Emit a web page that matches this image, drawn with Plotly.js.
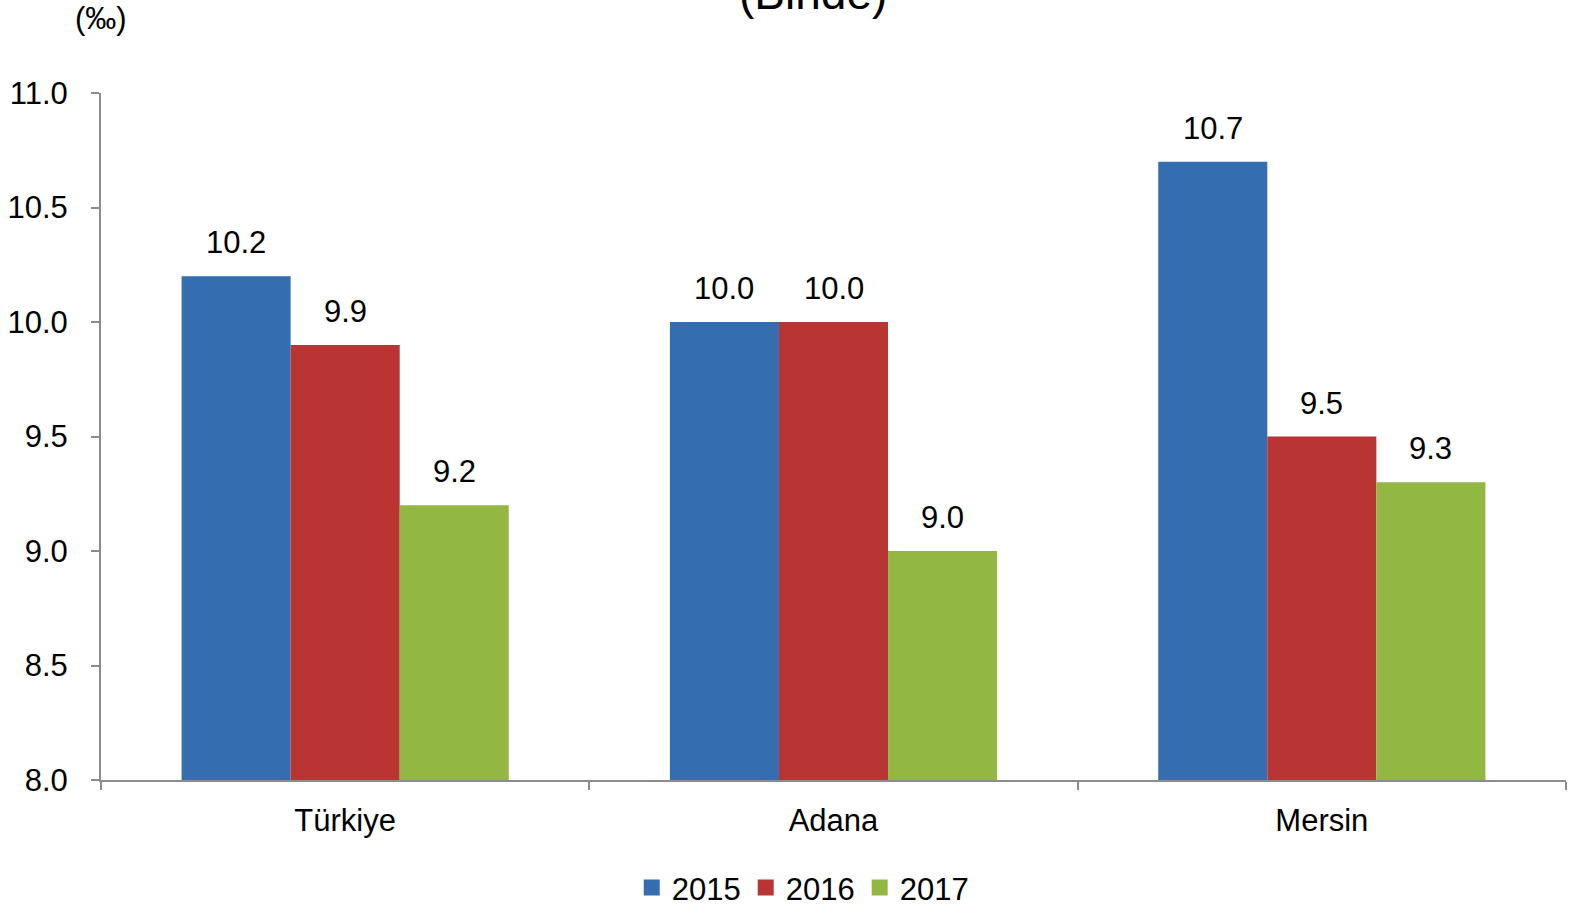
<!DOCTYPE html>
<html>
<head>
<meta charset="utf-8">
<script src="https://cdn.plot.ly/plotly-3.0.1.min.js"></script>
<style>html,body{margin:0;padding:0;background:#fff;}#chart{width:1571px;height:907px;}</style>
</head>
<body>
<div id="chart"></div>
<script>
const categories = ["Türkiye", "Adana", "Mersin"];
const years = ["2015", "2016", "2017"];
const values2015 = [10.2, 10.0, 10.7];
const values2016 = [9.9, 10.0, 9.5];
const values2017 = [9.2, 9.0, 9.3];
const yTicks = [8.0, 8.5, 9.0, 9.5, 10.0, 10.5, 11.0];
const titleText = "(Binde)";
const unitText = "(‰)";

const seriesValues = [values2015, values2016, values2017];
const colors = ["#356db1", "#b83534", "#92b843"];
const bargap = 0.33;
const fontFam = "Liberation Sans, Arial, sans-serif";

const traces = seriesValues.map((vals, i) => ({
  type: "bar",
  name: years[i],
  x: categories,
  y: vals,
  marker: {color: colors[i], line: {width: 0}},
  showlegend: false,
  hoverinfo: "none"
}));
// legend entries with larger square swatches
seriesValues.forEach((vals, i) => {
  traces.push({
    type: "scatter", mode: "markers", name: years[i],
    x: [null], y: [null],
    marker: {symbol: "square", size: 20, color: colors[i]},
    showlegend: true, hoverinfo: "none"
  });
});

// value labels placed above each bar (positions derived from the data and bar layout)
const nS = seriesValues.length;
const bw = (1 - bargap) / nS;
const annotations = [];
seriesValues.forEach((vals, i) => {
  vals.forEach((v, j) => {
    annotations.push({
      x: j + (i - (nS - 1) / 2) * bw, y: v, xref: "x", yref: "y",
      text: v.toFixed(1), showarrow: false, yanchor: "bottom", yshift: 14,
      font: {family: fontFam, size: 31, color: "#000"}
    });
  });
});
annotations.push({
  x: 0.486, xref: "paper", y: 1.145, yref: "paper", text: titleText, showarrow: false,
  xanchor: "center", yanchor: "middle", font: {family: fontFam, size: 46, color: "#000"}
});
annotations.push({
  x: 0.0, xref: "paper", y: 1.108, yref: "paper", text: unitText, showarrow: false,
  xanchor: "center", yanchor: "middle", font: {family: fontFam, size: 31, color: "#000"}
});

const layout = {
  width: 1571, height: 907,
  margin: {l: 101, r: 5, t: 93, b: 127, pad: 0, autoexpand: false},
  paper_bgcolor: "#fff", plot_bgcolor: "#fff",
  barmode: "group", bargap: bargap, bargroupgap: 0,
  showlegend: true,
  legend: {orientation: "h", x: 0.479, xanchor: "center", y: -0.157, yanchor: "middle",
           font: {family: fontFam, size: 31, color: "#000"}, itemwidth: 30, tracegroupgap: 0},
  xaxis: {
    type: "category", showgrid: false, zeroline: false,
    showline: true, linecolor: "#8c8c8c", linewidth: 2,
    ticks: "outside", tickson: "boundaries", ticklen: 8, tickcolor: "#8c8c8c", tickwidth: 2,
    ticklabelstandoff: 12,
    tickfont: {family: fontFam, size: 31, color: "#000"}
  },
  yaxis: {
    range: [8, 11], tickvals: yTicks, ticktext: yTicks.map(v => v.toFixed(1)),
    showgrid: false, zeroline: false,
    showline: true, linecolor: "#8c8c8c", linewidth: 2,
    ticks: "outside", ticklen: 8, tickcolor: "#8c8c8c", tickwidth: 2,
    ticklabelstandoff: 17,
    tickfont: {family: fontFam, size: 31, color: "#000"}
  },
  annotations: annotations
};

Plotly.newPlot("chart", traces, layout, {staticPlot: true});
</script>
</body>
</html>
